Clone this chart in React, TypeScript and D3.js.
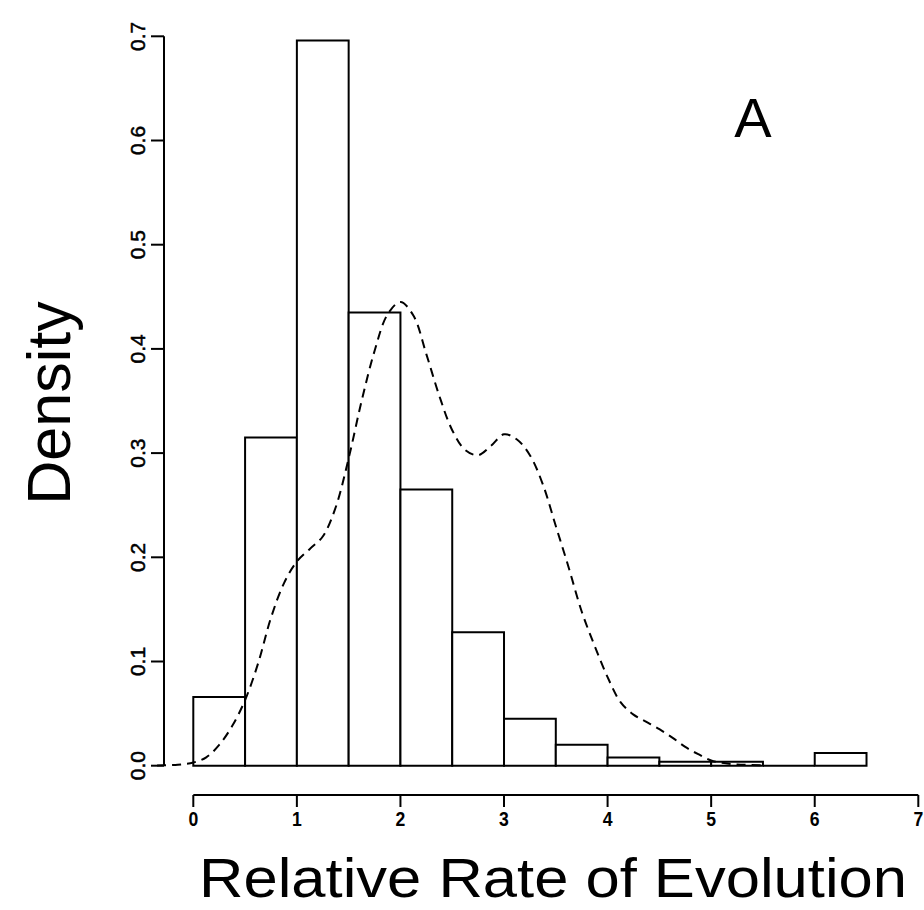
import React from "react";
import * as d3 from "d3";

// histogram bins (bin start, density)
const binStarts = [0, 0.5, 1, 1.5, 2, 2.5, 3, 3.5, 4, 4.5, 5, 5.5, 6];
const binDensity = [0.066, 0.315, 0.696, 0.435, 0.265, 0.128, 0.045, 0.02, 0.0078, 0.0038, 0.0038, 0, 0.0122];
const binWidth = 0.5;

// kernel density estimate
const kdeX = [-0.35, -0.15, 0, 0.125, 0.25, 0.375, 0.5, 0.625, 0.75, 0.875, 1, 1.125, 1.25, 1.375, 1.5, 1.625, 1.75, 1.875, 2, 2.125, 2.25, 2.375, 2.5, 2.625, 2.75, 2.875, 3, 3.125, 3.25, 3.375, 3.5, 3.625, 3.75, 3.875, 4, 4.125, 4.25, 4.375, 4.5, 4.625, 4.75, 4.875, 5, 5.125, 5.25, 5.5];
const kdeY = [0.0003, 0.001, 0.003, 0.008, 0.02, 0.038, 0.063, 0.098, 0.142, 0.175, 0.196, 0.208, 0.22, 0.248, 0.295, 0.35, 0.398, 0.433, 0.445, 0.432, 0.395, 0.355, 0.322, 0.303, 0.298, 0.307, 0.318, 0.313, 0.298, 0.27, 0.23, 0.19, 0.148, 0.115, 0.085, 0.061, 0.049, 0.042, 0.035, 0.027, 0.018, 0.011, 0.005, 0.0025, 0.0012, 0.0003];

const xTicks = [0, 1, 2, 3, 4, 5, 6, 7];
const yTicks = [0, 0.1, 0.2, 0.3, 0.4, 0.5, 0.6, 0.7];

export default function App() {
  const svgRef = React.useRef<SVGSVGElement>(null);
  const width = 924;
  const height = 910;

  React.useEffect(() => {
    const x = d3.scaleLinear().domain([0, 7]).range([193.3, 918.3]);
    const y = d3.scaleLinear().domain([0, 0.7]).range([765.7, 36.3]);

    const svg = d3.select(svgRef.current);
    svg.selectAll("*").remove();
    const font = "'Liberation Sans', Arial, Helvetica, sans-serif";

    // bars drawn as closed paths so the empty bin still shows its baseline
    svg
      .append("g")
      .selectAll("path")
      .data(binStarts)
      .enter()
      .append("path")
      .attr("d", (d, i) => {
        const x0 = x(d);
        const x1 = x(d + binWidth);
        const y0 = y(0);
        const y1 = y(binDensity[i]);
        return `M${x0},${y0}L${x0},${y1}L${x1},${y1}L${x1},${y0}Z`;
      })
      .attr("fill", "white")
      .attr("stroke", "black")
      .attr("stroke-width", 2);

    // density curve
    const pts = kdeX.map((v, i) => [v, kdeY[i]] as [number, number]);
    const line = d3
      .line<[number, number]>()
      .x((d) => x(d[0]))
      .y((d) => y(d[1]))
      .curve(d3.curveCatmullRom);
    svg
      .append("path")
      .attr("d", line(pts))
      .attr("fill", "none")
      .attr("stroke", "black")
      .attr("stroke-width", 2)
      .attr("stroke-dasharray", "9,6");

    // y axis
    const yAxis = svg.append("g");
    yAxis
      .append("line")
      .attr("x1", 164)
      .attr("x2", 164)
      .attr("y1", y(0))
      .attr("y2", y(0.7))
      .attr("stroke", "black")
      .attr("stroke-width", 2);
    const yt = yAxis.selectAll(".yt").data(yTicks).enter().append("g");
    yt.append("line")
      .attr("x1", 151)
      .attr("x2", 164)
      .attr("y1", (d) => y(d))
      .attr("y2", (d) => y(d))
      .attr("stroke", "black")
      .attr("stroke-width", 2);
    yt.append("text")
      .attr("transform", (d) => `translate(145,${y(d)}) rotate(-90)`)
      .attr("text-anchor", "middle")
      .attr("font-family", font)
      .attr("font-size", 21)
      .attr("stroke", "black")
      .attr("stroke-width", 0.5)
      .text((d) => d.toFixed(1));

    // x axis
    const xAxis = svg.append("g");
    xAxis
      .append("line")
      .attr("x1", x(0))
      .attr("x2", x(7))
      .attr("y1", 795)
      .attr("y2", 795)
      .attr("stroke", "black")
      .attr("stroke-width", 2);
    const xt = xAxis.selectAll(".xt").data(xTicks).enter().append("g");
    xt.append("line")
      .attr("x1", (d) => x(d))
      .attr("x2", (d) => x(d))
      .attr("y1", 795)
      .attr("y2", 807)
      .attr("stroke", "black")
      .attr("stroke-width", 2);
    xt.append("text")
      .attr("transform", (d) => `translate(${x(d)},826) scale(0.88,1)`)
      .attr("text-anchor", "middle")
      .attr("font-family", font)
      .attr("font-size", 20)
      .attr("font-weight", "bold")
      .text((d) => d);

    // labels
    svg
      .append("text")
      .attr("x", 553)
      .attr("y", 897)
      .attr("text-anchor", "middle")
      .attr("font-family", font)
      .attr("font-size", 56)
      .attr("textLength", 708)
      .attr("lengthAdjust", "spacingAndGlyphs")
      .text("Relative Rate of Evolution");
    svg
      .append("text")
      .attr("transform", "translate(70,403) rotate(-90)")
      .attr("text-anchor", "middle")
      .attr("font-family", font)
      .attr("font-size", 61)
      .text("Density");
    svg
      .append("text")
      .attr("x", 753)
      .attr("y", 137)
      .attr("text-anchor", "middle")
      .attr("font-family", font)
      .attr("font-size", 56)
      .text("A");
  }, []);

  return (
    <svg
      ref={svgRef}
      width={width}
      height={height}
      style={{ position: "absolute", left: 0, top: 0, background: "white" }}
    />
  );
}
